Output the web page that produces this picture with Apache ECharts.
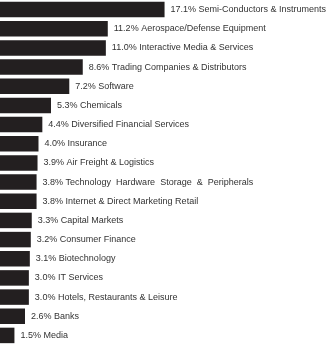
<!DOCTYPE html>
<html>
<head>
<meta charset="utf-8">
<script src="https://cdn.jsdelivr.net/npm/echarts@6/dist/echarts.min.js"></script>
<style>
  html, body { margin: 0; padding: 0; background: #ffffff; }
  #chart { width: 332px; height: 345px; }
</style>
</head>
<body>
<div id="chart"></div>
<script>
// Sector weights (%), largest first
const sectors = [
  "Semi-Conductors & Instruments",
  "Aerospace/Defense Equipment",
  "Interactive Media & Services",
  "Trading Companies & Distributors",
  "Software",
  "Chemicals",
  "Diversified Financial Services",
  "Insurance",
  "Air Freight & Logistics",
  "Technology  Hardware  Storage  &  Peripherals",
  "Internet & Direct Marketing Retail",
  "Capital Markets",
  "Consumer Finance",
  "Biotechnology",
  "IT Services",
  "Hotels, Restaurants & Leisure",
  "Banks",
  "Media"
];
const weights = [17.1, 11.2, 11.0, 8.6, 7.2, 5.3, 4.4, 4.0, 3.9, 3.8, 3.8, 3.3, 3.2, 3.1, 3.0, 3.0, 2.6, 1.5];

const chart = echarts.init(document.getElementById('chart'), null, { renderer: 'canvas' });
chart.setOption({
  animation: false,
  grid: { left: 0, right: 0, top: -2, bottom: -2, containLabel: false },
  xAxis: {
    type: 'value', min: 0, max: 34.5,
    show: false
  },
  yAxis: {
    type: 'category', data: sectors, inverse: true,
    show: false
  },
  series: [{
    type: 'bar',
    data: weights,
    barWidth: 15.5,
    itemStyle: { color: '#231f20' },
    label: {
      show: true,
      position: 'right',
      distance: 6,
      color: '#333333',
      fontFamily: '"Liberation Sans", Arial, sans-serif',
      fontSize: 9,
      formatter: p => p.value.toFixed(1) + '% ' + sectors[p.dataIndex]
    }
  }]
});
</script>
</body>
</html>
